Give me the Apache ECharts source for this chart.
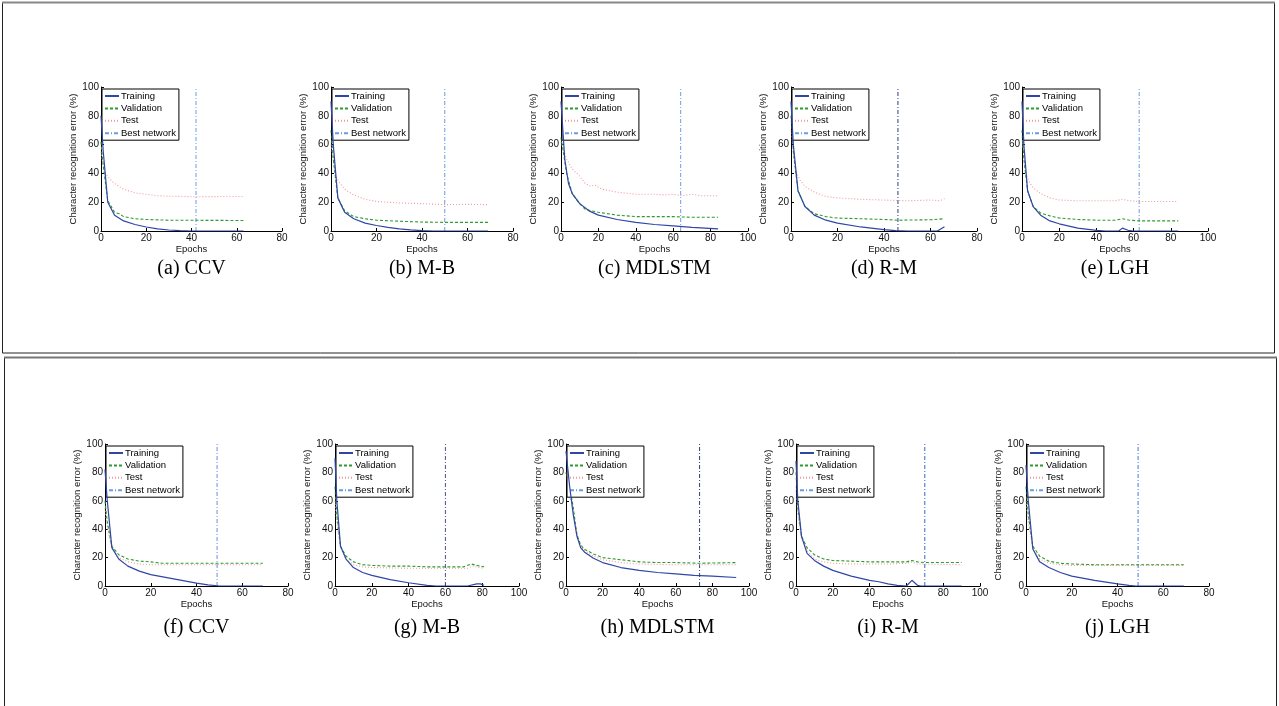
<!DOCTYPE html>
<html>
<head>
    <meta charset="utf-8">
    <title>Character recognition error vs epochs</title>
    <script src="https://cdn.jsdelivr.net/npm/echarts@6/dist/echarts.min.js"></script>
    <style>
        html, body { margin: 0; padding: 0; background: #fff; }
        #main { width: 1279px; height: 706px; }
    </style>
</head>
<body>
<div id="main"></div>

<script type="text/javascript">
    // ---- data: [epoch, error %] ----
    // top row
    var trainA = [[0,80],[1,55],[3,20],[6,11],[10,7],[15,4.5],[20,2.8],[25,1.5],[30,0.7],[35,0.2],[40,0],[63,0]];
    var validA = [[0,62],[1,45],[3,21],[6,13],[8,12],[10,10],[15,8.5],[20,8],[30,7.5],[63,7.3]];
    var testA  = [[0,55],[1,45],[2,40],[4,36],[6,33],[8,31],[10,29],[15,26.5],[20,25.5],[25,24.5],[30,24.2],[40,23.8],[63,24]];

    var trainB = [[0,90],[1,60],[3,23],[6,13],[10,8.5],[15,5.5],[20,3.8],[25,2.5],[30,1.5],[35,0.8],[40,0.3],[45,0],[69,0]];
    var validB = [[0,70],[1,50],[3,23],[6,14],[10,10],[15,8.5],[20,7.5],[30,6.8],[40,6.2],[50,6],[69,6]];
    var testB  = [[0,60],[2,38],[4,33],[6,29],[10,25],[15,22],[20,20.5],[30,19.5],[40,19],[50,18.3],[60,18.5],[69,18.3]];

    var trainC = [[0,90],[2,50],[4,33],[6,26],[10,19],[15,14],[20,11],[30,8],[40,6],[50,4.5],[60,3.5],[70,2.5],[84,1.5]];
    var validC = [[0,65],[3,40],[6,26],[10,19],[13,15],[20,13],[30,11],[40,10],[60,10],[70,9.5],[84,9.5]];
    var testC  = [[0,62],[3,50],[6,43],[10,38],[13,33],[16,31],[18,32],[22,29],[30,27],[40,25.5],[50,25.5],[55,25],[60,25.5],[65,24.5],[70,25.5],[75,24.5],[84,24.5]];

    var trainD = [[0,90],[1,60],[3,28],[6,17],[10,11],[15,7.5],[20,5.5],[30,2.8],[40,1],[45,0.3],[50,0],[63,0],[66,3]];
    var validD = [[0,80],[1,55],[3,28],[6,17],[10,12],[15,10],[20,9],[30,8.5],[40,8],[46,7.5],[60,7.8],[66,8.5]];
    var testD  = [[0,70],[2,42],[4,35],[6,31],[10,27],[15,24],[20,23],[30,22],[40,21.5],[50,21],[60,21.5],[64,21],[66,22.5]];

    var trainE = [[0,90],[1,60],[3,28],[6,17],[10,11],[15,7],[20,5],[30,2],[40,0.5],[45,0],[52,0],[54,2],[57,0.5],[60,0],[84,0]];
    var validE = [[0,70],[1,50],[3,28],[6,17],[10,12.5],[15,10.5],[20,9],[30,8],[40,7.5],[50,7.5],[54,8.5],[58,7.5],[63,7],[84,7]];
    var testE  = [[0,65],[2,40],[4,34],[6,30],[10,26],[15,23],[20,21.5],[30,21],[40,21],[50,21],[54,22],[58,21],[63,20.5],[84,20.5]];

    // bottom row
    var trainF = [[0,82],[1,60],[3,27],[6,19],[10,14],[15,10.5],[20,8],[30,5],[40,2],[45,0.8],[50,0],[69,0]];
    var validF = [[0,60],[1,45],[3,28],[6,22],[10,19],[15,17.5],[20,17],[25,16],[69,16]];
    var testF  = [[0,55],[1,42],[3,26],[6,20],[10,17],[15,15.5],[20,15],[69,15]];

    var trainG = [[0,90],[1,60],[3,28],[6,19],[10,13],[15,9.5],[20,7.5],[30,4.5],[40,2.3],[50,0.5],[55,0],[72,0],[77,1.5],[79,1.5],[81,0.5]];
    var validG = [[0,70],[1,50],[3,28],[6,21],[10,17],[15,15],[20,14.5],[30,14],[40,14],[50,13.5],[60,13.5],[70,13.5],[74,15.5],[77,14.5],[81,13.5]];
    var testG  = [[0,60],[1,45],[3,27],[6,19],[10,15],[15,13.5],[20,13],[40,12.5],[60,12.5],[72,12.5],[75,14],[78,13],[81,12.5]];

    var trainH = [[0,95],[2,70],[4,50],[6,35],[8,27],[10,24],[15,19.5],[20,16.5],[30,13],[40,11],[50,9.5],[60,8.5],[70,7.5],[80,7],[93,6]];
    var validH = [[0,80],[2,70],[4,55],[6,36],[8,29],[10,26],[15,22.5],[20,20],[30,18.5],[40,17],[50,16.5],[60,16.5],[73,16],[93,16.5]];
    var testH  = [[0,80],[4,52],[6,35],[8,28],[10,25],[15,21],[20,18.5],[30,16.5],[40,15.5],[60,15],[93,15]];

    var trainI = [[0,88],[1,60],[3,35],[6,23],[10,18],[15,14],[20,11],[30,7],[40,4],[45,3],[50,1.5],[55,0.5],[60,0],[63,4],[66,0.5],[68,0],[90,0]];
    var validI = [[0,80],[1,55],[3,35],[6,27],[10,22],[15,19],[20,18],[30,17.5],[40,17],[50,17],[60,17],[63,18],[66,17],[70,16.5],[90,16.5]];
    var testI  = [[0,70],[1,50],[3,33],[6,25],[10,19],[15,17],[20,16],[30,15.5],[50,15.5],[60,16],[63,17],[66,15.5],[90,15]];

    var trainJ = [[0,85],[1,60],[3,26],[6,17],[10,13],[15,9.5],[20,7],[30,4],[40,1.5],[45,0.5],[48,0],[69,0]];
    var validJ = [[0,70],[1,50],[3,28],[6,21],[10,17.5],[15,16],[20,15.5],[30,15],[69,15]];
    var testJ  = [[0,60],[1,45],[3,26],[6,19],[10,16],[15,15],[20,14.5],[69,14.5]];

    var trainSets = [trainA, trainB, trainC, trainD, trainE, trainF, trainG, trainH, trainI, trainJ];
    var validSets = [validA, validB, validC, validD, validE, validF, validG, validH, validI, validJ];
    var testSets  = [testA, testB, testC, testD, testE, testF, testG, testH, testI, testJ];

    var bestEpochs = [42, 50, 64, 46, 63, 49, 60, 73, 70, 49];
    var xMaxes     = [80, 80, 100, 80, 100, 80, 100, 100, 100, 80];
    var captions   = ['(a) CCV', '(b) M-B', '(c) MDLSTM', '(d) R-M', '(e) LGH',
                      '(f) CCV', '(g) M-B', '(h) MDLSTM', '(i) R-M', '(j) LGH'];
    var seriesNames = ['Training', 'Validation', 'Test', 'Best network'];

    // ---- layout (pixels) ----
    var gridLefts  = [101, 331, 561, 791, 1022, 105, 335, 566, 796, 1026];
    var gridWidths = [181, 182, 187, 186, 186, 183, 184, 183, 184, 183];
    var rowTop     = [87, 444];
    var rowHeight  = [144, 142];
    var captionY   = [269, 628];
    var bestColors = ['#6b9be0', '#6b9be0', '#6b9be0', '#2c3f78', '#6b9be0',
                      '#6f8fd8', '#4a4f90', '#2c3f78', '#3a64c8', '#4a78d8'];

    var font = '"Liberation Sans", Arial, Helvetica, sans-serif';

    var grids = [], xAxes = [], yAxes = [], series = [], legends = [], graphics = [];

    for (var i = 0; i < 10; i++) {
        var row = i < 5 ? 0 : 1;
        grids.push({
            left: gridLefts[i], top: rowTop[row],
            width: gridWidths[i], height: rowHeight[row],
            containLabel: false
        });
        xAxes.push({
            type: 'value', gridIndex: i, min: 0, max: xMaxes[i], interval: 20,
            name: 'Epochs', nameLocation: 'middle', nameGap: 12,
            nameTextStyle: { fontFamily: font, fontSize: 9.5, color: '#111' },
            axisLine: { lineStyle: { color: '#000', width: 1 } },
            axisTick: { inside: true, length: 3, lineStyle: { color: '#000' } },
            axisLabel: { fontFamily: font, fontSize: 10, color: '#111', margin: 2 },
            splitLine: { show: false }
        });
        yAxes.push({
            type: 'value', gridIndex: i, min: 0, max: 100, interval: 20,
            name: 'Character recognition error (%)', nameLocation: 'middle', nameGap: 22,
            nameTextStyle: { fontFamily: font, fontSize: 9.5, color: '#111' },
            axisLine: { show: true, lineStyle: { color: '#000', width: 1 } },
            axisTick: { show: true, inside: true, length: 3, lineStyle: { color: '#000' } },
            axisLabel: { fontFamily: font, fontSize: 10, color: '#111', margin: 2 },
            splitLine: { show: false }
        });

        series.push({
            name: 'Training', type: 'line', xAxisIndex: i, yAxisIndex: i,
            data: trainSets[i], symbol: 'none', silent: true,
            lineStyle: { color: '#2f46a6', width: 1.2, type: 'solid' },
            itemStyle: { color: '#2f46a6' }, z: 4
        });
        series.push({
            name: 'Validation', type: 'line', xAxisIndex: i, yAxisIndex: i,
            data: validSets[i], symbol: 'none', silent: true,
            lineStyle: { color: '#2f9a2f', width: 1.1, type: [3, 2] },
            itemStyle: { color: '#2f9a2f' }, z: 3
        });
        series.push({
            name: 'Test', type: 'line', xAxisIndex: i, yAxisIndex: i,
            data: testSets[i], symbol: 'none', silent: true,
            lineStyle: { color: '#f0989c', width: 1.1, type: [1, 2] },
            itemStyle: { color: '#f0989c' }, z: 2
        });
        series.push({
            name: 'Best network', type: 'line', xAxisIndex: i, yAxisIndex: i,
            data: [[bestEpochs[i], 0], [bestEpochs[i], 100]], symbol: 'none', silent: true,
            lineStyle: { color: bestColors[i], width: 1, type: [4, 2, 1, 2] },
            itemStyle: { color: bestColors[i] }, z: 1
        });

        legends.push({
            data: seriesNames, orient: 'vertical',
            left: gridLefts[i] + 1, top: rowTop[row] + 2,
            itemWidth: 14, itemHeight: 10, itemGap: 2.4,
            padding: [2, 3, 2, 2],
            backgroundColor: '#fff', borderColor: '#000', borderWidth: 1,
            selectedMode: false,
            itemStyle: { opacity: 0 },
            textStyle: { fontFamily: font, fontSize: 9.5, color: '#000', padding: [0, 0, 0, -3] }
        });

        graphics.push({
            type: 'text', silent: true,
            x: gridLefts[i] + gridWidths[i] / 2, y: captionY[row],
            style: {
                text: captions[i], fill: '#000',
                font: '20px "Liberation Serif", "Times New Roman", serif',
                align: 'center', verticalAlign: 'middle'
            }
        });
    }

    // panel frames
    graphics.push({
        type: 'rect', silent: true, shape: { x: 2.5, y: 2.5, width: 1272, height: 350.5 },
        style: { fill: 'none', stroke: '#222', lineWidth: 1 }
    });
    graphics.push({
        type: 'line', silent: true, shape: { x1: 2, y1: 2.5, x2: 1275, y2: 2.5 },
        style: { stroke: '#888', lineWidth: 2 }
    });
    graphics.push({
        type: 'rect', silent: true, shape: { x: 4.5, y: 357.5, width: 1272, height: 400 },
        style: { fill: 'none', stroke: '#222', lineWidth: 1 }
    });
    graphics.push({
        type: 'line', silent: true, shape: { x1: 4, y1: 357.5, x2: 1277, y2: 357.5 },
        style: { stroke: '#777', lineWidth: 2 }
    });

    var chart = echarts.init(document.getElementById('main'), null, { renderer: 'canvas' });
    var option = {
        animation: false,
        backgroundColor: '#fff',
        grid: grids,
        xAxis: xAxes,
        yAxis: yAxes,
        legend: legends,
        series: series,
        graphic: graphics
    };
    chart.setOption(option, true);
</script>
</body>
</html>
